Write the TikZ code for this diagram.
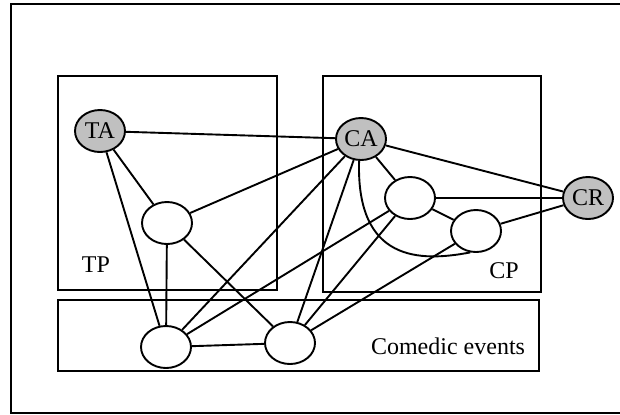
\documentclass[tikz,border=0pt]{standalone}
\usepackage{fontspec}
\setmainfont{Liberation Serif}
\usepackage{tikz}
\usetikzlibrary{shapes.geometric}
\definecolor{actorgray}{HTML}{C0C0C0}
\tikzset{
  event/.style={ellipse, draw, line width=0.95pt, fill=white, minimum width=25pt, minimum height=21pt, inner sep=0pt},
  actor/.style={event, fill=actorgray},
  link/.style={line width=0.95pt},
  frame/.style={line width=0.95pt}
}

\begin{document}
\begin{tikzpicture}[x=0.5pt,y=-0.5pt,every node/.style={font=\fontsize{12}{14}\selectfont}]
  \useasboundingbox (0,0) rectangle (620,414);
  \draw[frame] (620,4) -- (11,4) -- (11,413) -- (620,413);
  \draw[frame] (58,76) rectangle (277,290);
  \draw[frame] (323,76) rectangle (541,292);
  \draw[frame] (58,300) rectangle (539,371);

  \node (tp) at (96,265) {TP};
  \node (cp) at (504,271) {CP};
  \node (comedic) at (448,346) {Comedic events};

  \node[actor] (ta) at (100,131) {TA};
  \node[actor] (ca) at (361,139) {CA};
  \node[actor] (cr) at (588,198) {CR};
  \node[event] (tmid) at (167,223) {};
  \node[event] (cmid) at (410,198) {};
  \node[event] (clow) at (476,231) {};
  \node[event] (eleft) at (166,347) {};
  \node[event] (eright) at (290,343) {};

  \draw[link] (ta) -- (ca);
  \draw[link] (ta) -- (tmid);
  \draw[link] (ta) -- (eleft);
  \draw[link] (tmid) -- (ca);
  \draw[link] (tmid) -- (eleft);
  \draw[link] (tmid) -- (eright);
  \draw[link] (ca) -- (eleft);
  \draw[link] (ca) -- (eright);
  \draw[link] (ca) -- (cr);
  \draw[link] (ca) -- (cmid);
  \draw[link] (ca.265) .. controls (356,262) and (420,262) .. (clow.255);
  \draw[link] (cmid) -- (cr);
  \draw[link] (cmid) -- (clow);
  \draw[link] (clow) -- (cr);
  \draw[link] (cmid) -- (eleft);
  \draw[link] (cmid) -- (eright);
  \draw[link] (clow) -- (eright);
  \draw[link] (eleft) -- (eright);
\end{tikzpicture}
\end{document}
